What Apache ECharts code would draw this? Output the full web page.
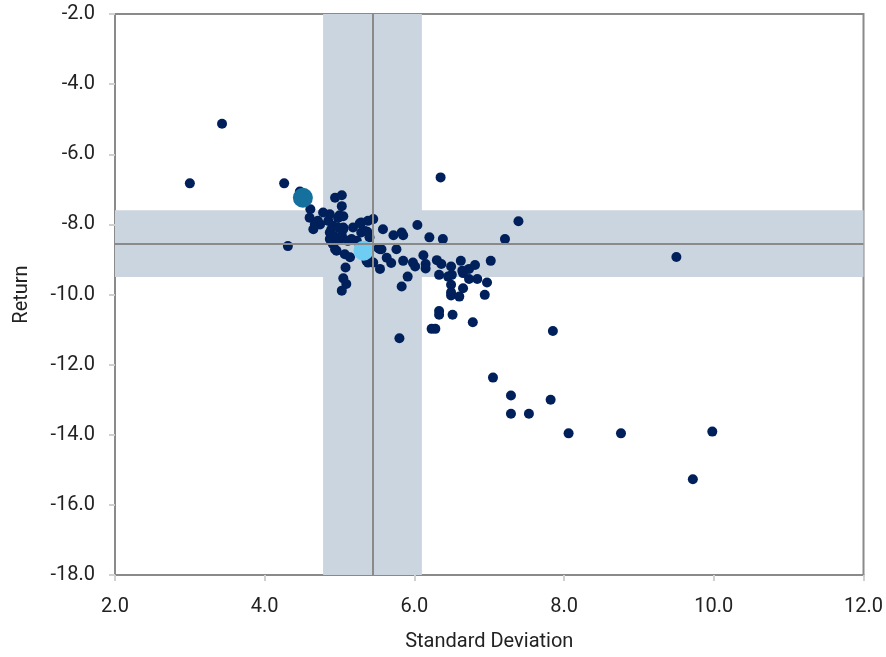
<!DOCTYPE html>
<html>
<head>
<meta charset="utf-8">
<script src="https://cdn.jsdelivr.net/npm/echarts@6/dist/echarts.min.js"></script>
<style>
  html, body { margin: 0; padding: 0; background: #fff; }
  #chart { width: 886px; height: 657px; }
</style>
</head>
<body>
<div id="chart"></div>
<script>
// [standard deviation, return]
var peers = [
  [3.43,-5.13],[3.00,-6.83],[4.26,-6.83],[4.31,-8.62],[6.35,-6.66],[7.39,-7.91],
  [7.21,-8.42],[9.50,-8.93],[7.02,-9.04],[6.97,-9.66],[6.94,-10.01],[7.85,-11.04],
  [6.23,-10.98],[6.28,-10.98],[6.33,-10.47],[6.33,-10.58],[6.51,-10.58],[6.78,-10.79],
  [7.05,-12.37],[7.29,-12.88],[7.29,-13.40],[7.53,-13.40],[7.82,-13.00],[8.06,-13.96],
  [8.76,-13.96],[9.98,-13.91],[9.72,-15.27],[5.80,-11.25],[6.04,-8.02],[6.20,-8.37],
  [6.38,-8.42],[5.58,-8.14],[5.83,-8.23],[5.85,-8.31],[5.72,-8.31],[5.76,-8.71],
  [5.56,-8.71],[5.63,-8.95],[5.69,-9.10],[5.85,-9.04],[5.98,-9.09],[6.01,-9.20],
  [6.12,-8.88],[6.15,-9.13],[6.15,-9.26],[5.91,-9.49],[5.83,-9.77],[6.30,-9.02],
  [6.36,-9.13],[6.49,-9.20],[6.33,-9.44],[6.45,-9.49],[6.50,-9.44],[6.62,-9.04],
  [6.64,-9.32],[6.65,-9.39],[6.73,-9.27],[6.81,-9.16],[6.73,-9.56],[6.84,-9.56],
  [6.49,-9.72],[6.65,-9.82],[6.49,-10.03],[6.60,-10.06],[6.49,-9.94],[5.54,-9.27],
  [4.47,-7.06],[4.94,-7.24],[5.03,-7.17],[5.03,-7.48],[4.61,-7.57],[4.60,-7.81],
  [4.78,-7.66],[4.87,-7.71],[5.00,-7.74],[4.98,-7.82],[5.05,-7.77],[4.65,-8.14],
  [4.67,-8.00],[4.74,-8.00],[4.71,-7.90],[4.85,-7.90],[4.91,-8.04],[4.98,-8.09],
  [5.05,-8.09],[4.89,-8.14],[4.87,-8.23],[4.94,-8.35],[5.03,-8.31],[5.05,-8.14],
  [5.18,-8.09],[5.27,-7.97],[5.29,-7.95],[5.38,-7.90],[5.29,-8.23],[5.37,-8.21],
  [5.40,-8.37],[5.34,-8.19],[5.16,-8.42],[5.23,-8.47],[4.87,-8.42],[5.00,-8.42],
  [5.11,-8.47],[5.45,-7.85],[4.91,-8.56],[4.96,-8.75],[4.94,-8.71],[5.07,-8.85],
  [5.14,-8.94],[5.08,-9.23],[5.05,-9.54],[5.09,-9.70],[5.03,-9.89],[5.54,-8.71],
  [5.52,-8.68],[5.40,-9.04],[5.36,-9.04],[5.45,-9.09],[5.38,-9.09]
];
var fundPoint = [[4.51,-7.24]];
var benchPoint = [[5.32,-8.75]];
var medianSd = 5.45;
var medianRet = -8.56;
var sdBand = [4.78, 6.10];
var retBand = [-7.60, -9.50];

var chartDom = document.getElementById('chart');
var myChart = echarts.init(chartDom);
var bandColor = '#cbd5df';
var labelStyle = { color: '#222', fontSize: 20, fontFamily: 'Roboto' };

var option = {
    backgroundColor: '#fff',
    animation: false,
    grid: {
        left: 115, right: 22, top: 14, bottom: 80,
        show: true, borderColor: '#8a8a8a', borderWidth: 2
    },
    xAxis: {
        type: 'value', min: 2, max: 12, interval: 2,
        name: 'Standard Deviation', nameLocation: 'middle', nameGap: 57,
        nameTextStyle: labelStyle,
        axisLine: { show: true, lineStyle: { color: '#8a8a8a', width: 2 } },
        axisTick: { show: true, length: 6, lineStyle: { color: '#d0d0d0', width: 2 } },
        splitLine: { show: false },
        axisLabel: Object.assign({ margin: 22, formatter: function (v) { return v.toFixed(1); } }, labelStyle)
    },
    yAxis: {
        type: 'value', min: -18, max: -2, interval: 2,
        name: 'Return', nameLocation: 'middle', nameGap: 83,
        nameTextStyle: labelStyle,
        axisLine: { show: true, lineStyle: { color: '#8a8a8a', width: 2 } },
        axisTick: { show: true, length: 6, lineStyle: { color: '#d0d0d0', width: 2 } },
        splitLine: { show: false },
        axisLabel: Object.assign({ margin: 20, formatter: function (v) { return v.toFixed(1); } }, labelStyle)
    },
    series: [
        {
            type: 'scatter',
            symbolSize: 10,
            itemStyle: { color: '#00205b', opacity: 1 },
            data: peers,
            z: 3,
            markArea: {
                silent: true,
                itemStyle: { color: bandColor, opacity: 1 },
                data: [
                    [{ xAxis: sdBand[0] }, { xAxis: sdBand[1] }],
                    [{ yAxis: retBand[0] }, { yAxis: retBand[1] }]
                ]
            },
            markLine: {
                silent: true,
                symbol: 'none',
                label: { show: false },
                lineStyle: { color: '#8a8a8a', width: 2, type: 'solid' },
                data: [{ xAxis: medianSd }, { yAxis: medianRet }]
            }
        },
        {
            type: 'scatter',
            symbolSize: 20,
            itemStyle: { color: '#16709e', opacity: 1 },
            data: fundPoint,
            z: 4
        },
        {
            type: 'scatter',
            symbolSize: 20,
            itemStyle: { color: '#6fcdf4', opacity: 1 },
            data: benchPoint,
            z: 4
        }
    ]
};

option && myChart.setOption(option);
</script>
</body>
</html>
